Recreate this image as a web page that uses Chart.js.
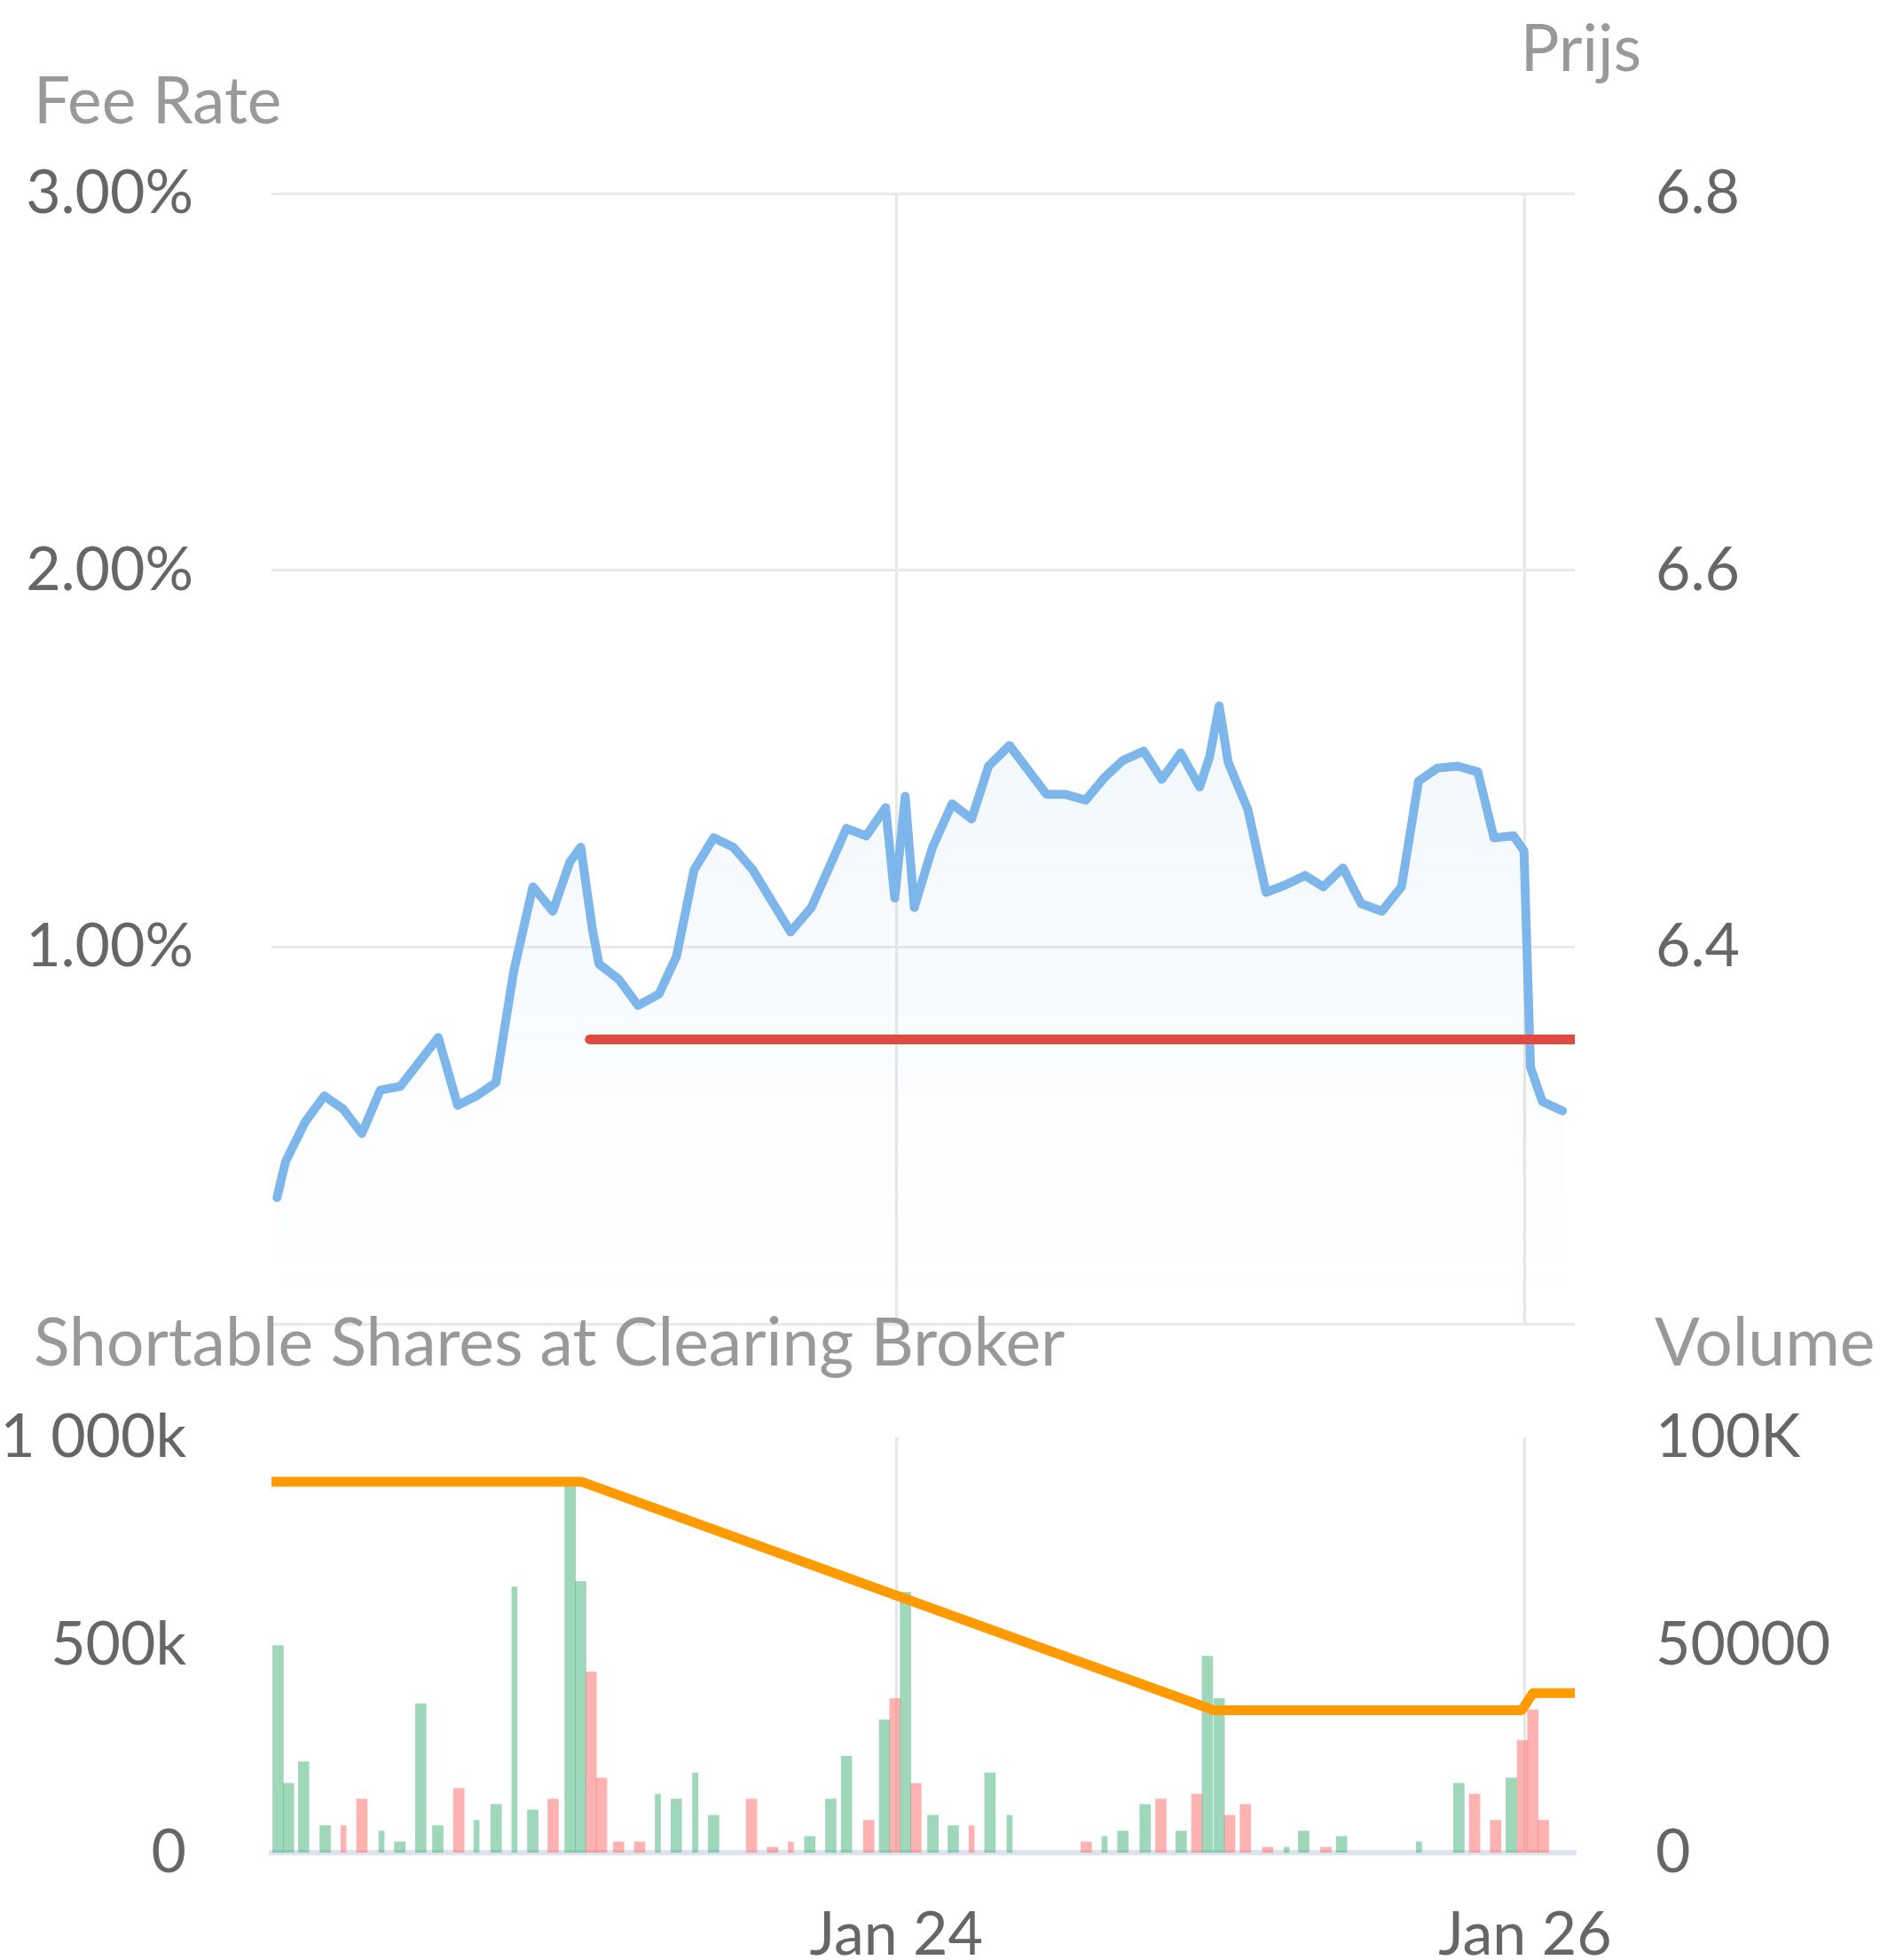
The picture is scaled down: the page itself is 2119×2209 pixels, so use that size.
<!DOCTYPE html>
<html>
<head>
<meta charset="utf-8">
<script src="https://cdn.jsdelivr.net/npm/chart.js@4.4.1/dist/chart.umd.min.js"></script>
<style>
  html, body { margin: 0; padding: 0; background: #fff; }
  #wrap { position: relative; width: 2119px; height: 2209px; }
  canvas { position: absolute; left: 0; }
  #top { top: 0; }
  #bottom { top: 1440px; }
</style>
</head>
<body>
<div id="wrap">
  <canvas id="top" width="2119" height="1500"></canvas>
  <canvas id="bottom" width="2119" height="769"></canvas>
</div>
<script>
// hours since Jan 22 00:00
const dateTickHours = [48, 96];
const dateTickLabels = ['Jan 24', 'Jan 26'];

const feeTickValues = [0, 1, 2, 3];
const feeTickLabels = ['', '1.00%', '2.00%', '3.00%'];
const priceTickValues = [6.2, 6.4, 6.6, 6.8];
const priceTickLabels = ['', '6.4', '6.6', '6.8'];
const sharesTickValues = [0, 500000, 1000000];
const sharesTickLabels = ['0', '500k', '1 000k'];
const volumeTickValues = [0, 50000, 100000];
const volumeTickLabels = ['0', '50000', '100K'];

const priceHours = [0.72, 1.37, 2.86, 4.33, 5.77, 7.2, 8.6, 10.13, 13.03, 14.51, 15.96, 17.43, 18.79, 20.26, 21.78, 23.07, 23.91,
  24.81, 25.3, 26.8, 28.29, 29.88, 31.22, 32.56, 34.06, 35.55, 37.04, 39.93, 41.52, 44.2, 45.7, 47.19, 47.88, 48.68, 49.37,
  50.77, 52.26, 53.75, 55.04, 56.64, 59.47, 60.91, 62.46, 63.9, 65.29, 66.88, 68.27, 69.71, 71.16, 71.92, 72.65, 73.34,
  74.84, 76.23, 77.72, 79.21, 80.6, 82.1, 83.49, 85.08, 86.57, 87.87, 89.31, 90.85, 92.39, 93.63, 95.13, 95.92, 96.42,
  97.32, 98.86];
const priceValues = [6.267, 6.286, 6.307, 6.321, 6.314, 6.301, 6.324, 6.326, 6.352, 6.316, 6.321, 6.328, 6.387, 6.432, 6.419, 6.445, 6.453,
  6.409, 6.391, 6.383, 6.369, 6.375, 6.395, 6.441, 6.458, 6.453, 6.441, 6.408, 6.421, 6.463, 6.459, 6.474, 6.426, 6.48, 6.421,
  6.453, 6.476, 6.468, 6.496, 6.507, 6.481, 6.481, 6.478, 6.49, 6.499, 6.504, 6.489, 6.503, 6.485, 6.501, 6.528, 6.498,
  6.473, 6.429, 6.433, 6.438, 6.432, 6.442, 6.423, 6.419, 6.432, 6.488, 6.495, 6.496, 6.493, 6.458, 6.459, 6.451, 6.336,
  6.318, 6.313];

const feeHours = [24.6, 99.8];
const feeValues = [0.755, 0.755];

const sharesHours = [0.3, 12.5, 24.0, 72.25, 95.75, 96.6, 99.8];
const sharesValues = [893000, 893000, 893000, 343000, 343000, 384000, 384000];

const volHours = [0.8, 1.6, 2.75, 4.4, 5.8, 7.2, 8.7, 10.1, 11.7, 13.0, 14.6, 15.95, 17.45, 18.85, 20.25, 21.8, 23.1, 23.9,
  24.7, 25.5, 26.8, 28.4, 29.8, 31.2, 32.65, 34.05, 36.95, 38.55, 39.95, 41.4, 43.0, 44.2, 45.9, 47.1, 47.9, 48.7, 49.5,
  50.8, 52.35, 53.75, 55.15, 56.65, 62.5, 63.9, 65.3, 67.0, 68.2, 69.75, 70.95, 71.75, 72.65, 73.45, 74.65, 76.35, 77.8,
  79.1, 80.8, 82.0, 87.9, 90.95, 92.15, 93.75, 94.95, 95.8, 96.6, 97.4];
const volValues = [49900, 16700, 21900, 6500, 6500, 12900, 5200, 2600, 35900, 6500, 15500, 7800, 11600, 64000, 10300, 12900, 89000, 65300,
  43500, 18000, 2600, 2600, 14100, 12900, 19200, 9000, 12900, 1300, 2600, 3900, 12900, 23200, 7800, 32000, 37100, 62700, 16700,
  9000, 6500, 6500, 19200, 9000, 2600, 3900, 5200, 11600, 12900, 5200, 14100, 47300, 37100, 9000, 11600, 1300, 1300,
  5200, 1300, 3900, 2600, 16700, 14100, 7800, 18000, 27000, 34400, 7800];
// 1 = price up (green), 0 = down (red)
const volUp = [1, 1, 1, 1, 0, 0, 1, 1, 1, 1, 0, 1, 1, 1, 1, 0, 1, 1,
  0, 0, 0, 0, 1, 1, 1, 1, 0, 0, 0, 1, 1, 1, 0, 1, 0, 1, 0,
  1, 1, 0, 1, 1, 0, 1, 1, 1, 0, 1, 0, 1, 1, 0, 0, 0, 1,
  1, 0, 1, 1, 1, 0, 0, 1, 0, 0, 0];
// 1 = thin bar
const volThin = [0, 0, 0, 0, 1, 0, 1, 0, 0, 0, 0, 1, 0, 1, 0, 0, 0, 0,
  0, 0, 0, 0, 1, 0, 1, 0, 0, 0, 1, 0, 0, 0, 0, 0, 0, 0, 0,
  0, 0, 1, 0, 1, 0, 1, 0, 0, 0, 0, 0, 0, 0, 0, 0, 0, 1,
  0, 0, 0, 1, 0, 0, 0, 0, 0, 0, 0];

const X_MIN = 0.3, X_MAX = 99.8;
const FONT = 'Lato';
Chart.defaults.font.family = FONT;
Chart.defaults.font.size = 68;
Chart.defaults.color = '#666';

const pts = (xs, ys) => xs.map((x, i) => ({x: x, y: ys[i]}));
const fixedTicks = (values) => (axis) => { axis.ticks = values.map(v => ({value: v})); };
// fixed axis width, and no extra label padding pushed into the chart area
const fitY = (w) => (s) => { s.width = w; s.paddingTop = 0; s.paddingBottom = 0; };

const axisTitles = {
  id: 'axisTitles',
  afterDraw(chart, args, opts) {
    const ctx = chart.ctx;
    ctx.save();
    ctx.font = opts.size + 'px ' + FONT;
    ctx.fillStyle = opts.color;
    ctx.textBaseline = 'middle';
    opts.items.forEach(t => {
      ctx.textAlign = t.align;
      ctx.fillText(t.text, t.x, t.y);
    });
    ctx.restore();
  }
};

const xAxis = (showLabels, h) => ({
  type: 'linear', min: X_MIN, max: X_MAX, offset: false,
  afterBuildTicks: fixedTicks(dateTickHours),
  afterFit: (s) => { s.height = h; },
  ticks: {
    display: showLabels, padding: 52, maxRotation: 0, autoSkip: false,
    callback: (v, i) => dateTickLabels[i]
  },
  grid: { color: '#e6e6e6', lineWidth: 3, drawTicks: false, offset: false },
  border: showLabels ? { color: '#dde3ec', width: 6 } : { display: false }
});

// top: price and fee rate
new Chart(document.getElementById('top'), {
  type: 'line',
  plugins: [axisTitles],
  data: {
    datasets: [
      {
        label: 'Fee Rate', data: pts(feeHours, feeValues), yAxisID: 'yFee', order: 0,
        borderColor: '#df4b41', borderWidth: 11, borderCapStyle: 'round', pointRadius: 0, fill: false
      },
      {
        label: 'Prijs', data: pts(priceHours, priceValues), yAxisID: 'yPrice', order: 1,
        borderColor: '#7db6eb', borderWidth: 10, borderJoinStyle: 'round', borderCapStyle: 'round',
        pointRadius: 0, tension: 0, fill: 'start',
        backgroundColor: (c) => {
          const a = c.chart.chartArea;
          if (!a) return 'rgba(125,182,235,0.1)';
          const g = c.chart.ctx.createLinearGradient(0, a.top, 0, a.bottom);
          g.addColorStop(0, 'rgba(125,182,235,0.18)');
          g.addColorStop(1, 'rgba(125,182,235,0)');
          return g;
        }
      }
    ]
  },
  options: {
    responsive: false, animation: false,
    layout: { padding: { top: 218, bottom: 0, left: 0, right: 0 } },
    plugins: {
      legend: { display: false }, tooltip: { enabled: false },
      axisTitles: {
        size: 73, color: '#999',
        items: [
          { text: 'Fee Rate', x: 38, y: 115, align: 'left' },
          { text: 'Prijs', x: 1782, y: 56, align: 'center' }
        ]
      }
    },
    scales: {
      x: xAxis(false, 8),
      yFee: {
        position: 'left', min: 0, max: 3,
        afterBuildTicks: fixedTicks(feeTickValues),
        afterFit: fitY(306),
        ticks: { padding: 88, callback: (v, i) => feeTickLabels[i] },
        grid: { color: '#e9e9e9', lineWidth: 3, drawTicks: false },
        border: { display: false }
      },
      yPrice: {
        position: 'right', min: 6.2, max: 6.8,
        afterBuildTicks: fixedTicks(priceTickValues),
        afterFit: fitY(344),
        ticks: { padding: 83, callback: (v, i) => priceTickLabels[i] },
        grid: { display: false },
        border: { display: false }
      }
    }
  }
});

// bottom: shortable shares and volume
const volSet = (up, thin) => ({
  type: 'bar', order: 1, yAxisID: 'yVol', grouped: false,
  barThickness: thin ? 6 : 12, borderWidth: 0,
  backgroundColor: up ? 'rgba(62,176,118,0.5)' : 'rgba(255,102,102,0.5)',
  data: volHours.map((h, i) => ({x: h, y: volValues[i]}))
    .filter((p, i) => volUp[i] === up && volThin[i] === thin)
});

new Chart(document.getElementById('bottom'), {
  type: 'bar',
  plugins: [axisTitles],
  data: {
    datasets: [
      {
        type: 'line', label: 'Shortable Shares', order: 0, yAxisID: 'yShares',
        data: pts(sharesHours, sharesValues),
        borderColor: '#ff9a00', borderWidth: 11, borderCapStyle: 'round', borderJoinStyle: 'round',
        pointRadius: 0, tension: 0, fill: false
      },
      volSet(1, 0), volSet(1, 1), volSet(0, 0), volSet(0, 1)
    ]
  },
  options: {
    responsive: false, animation: false,
    layout: { padding: { top: 180, bottom: 0, left: 0, right: 0 } },
    plugins: {
      legend: { display: false }, tooltip: { enabled: false },
      axisTitles: {
        size: 75, color: '#999',
        items: [
          { text: 'Shortable Shares at Clearing Broker', x: 38, y: 75, align: 'left' },
          { text: 'Volume', x: 1865, y: 75, align: 'left' }
        ]
      }
    },
    scales: {
      x: xAxis(true, 121),
      yShares: {
        position: 'left', min: 0, max: 1000000,
        afterBuildTicks: fixedTicks(sharesTickValues),
        afterFit: fitY(306),
        ticks: { padding: 88, callback: (v, i) => sharesTickLabels[i] },
        grid: { display: false },
        border: { display: false }
      },
      yVol: {
        position: 'right', min: 0, max: 100000,
        afterBuildTicks: fixedTicks(volumeTickValues),
        afterFit: fitY(344),
        ticks: { padding: 83, callback: (v, i) => volumeTickLabels[i] },
        grid: { display: false },
        border: { display: false }
      }
    }
  }
});
</script>
</body>
</html>
